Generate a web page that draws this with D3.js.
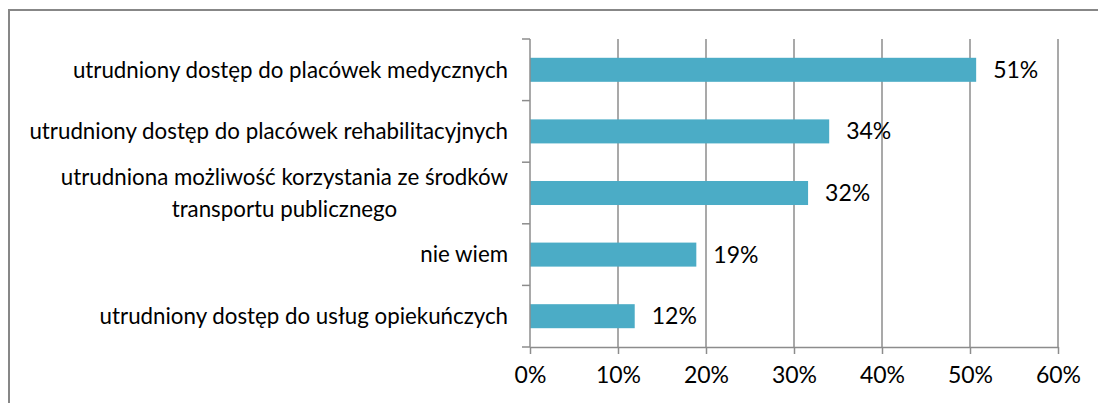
<!DOCTYPE html>
<html>
<head>
<meta charset="utf-8">
<script src="https://cdn.jsdelivr.net/npm/d3@7"></script>
<style>
  html, body { margin: 0; padding: 0; background: #fff; }
  svg { display: block; }
  text { font-family: Lato, "Liberation Sans", sans-serif; fill: #000; }
</style>
</head>
<body>
<div id="chart"></div>
<script>
// chart data
var categories = [
  ["utrudniony dostęp do placówek medycznych"],
  ["utrudniony dostęp do placówek rehabilitacyjnych"],
  ["utrudniona możliwość korzystania ze środków", "transportu publicznego"],
  ["nie wiem"],
  ["utrudniony dostęp do usług opiekuńczych"]
];
var values = [0.507, 0.34, 0.316, 0.189, 0.119];
var tickValues = [0, 0.1, 0.2, 0.3, 0.4, 0.5, 0.6];

var width = 1098, height = 403;

var svg = d3.select("#chart").append("svg")
  .attr("width", width)
  .attr("height", height);

// outer frame (runs off right and bottom edge)
svg.append("path")
  .attr("d", "M9," + (height + 5) + "V10H" + (width + 5))
  .attr("fill", "none")
  .attr("stroke", "#878787")
  .attr("stroke-width", 2);

var x = d3.scaleLinear().domain([0, 0.6]).range([530, 1058]);

var y = d3.scaleBand()
  .domain(d3.range(categories.length))
  .range([39, 347])
  .paddingInner(0.61)
  .paddingOuter(0.305);

var gridColor = "#8c8c8c";

// vertical gridlines
svg.append("g").selectAll("line")
  .data(tickValues.slice(1))
  .enter().append("line")
  .attr("x1", function(d) { return x(d); })
  .attr("x2", function(d) { return x(d); })
  .attr("y1", 39)
  .attr("y2", 347)
  .attr("stroke", gridColor)
  .attr("stroke-width", 1.5);

// bars
svg.append("g").selectAll("rect")
  .data(values)
  .enter().append("rect")
  .attr("x", x(0))
  .attr("y", function(d, i) { return y(i); })
  .attr("width", function(d) { return x(d) - x(0); })
  .attr("height", y.bandwidth())
  .attr("fill", "#4bacc6");

// bottom axis
var xAxis = d3.axisBottom(x)
  .tickValues(tickValues)
  .tickFormat(d3.format(".0%"))
  .tickSizeInner(7)
  .tickSizeOuter(0)
  .tickPadding(13);

var gx = svg.append("g")
  .attr("transform", "translate(0,347)")
  .call(xAxis);
gx.select(".domain").attr("stroke", gridColor).attr("stroke-width", 1.5);
gx.selectAll(".tick line").attr("stroke", gridColor).attr("stroke-width", 1.5);
gx.selectAll(".tick text")
  .attr("font-family", "Lato, sans-serif")
  .attr("font-size", 23)
  .attr("fill", "#000");

// left axis line + ticks between categories
svg.append("line")
  .attr("x1", x(0)).attr("x2", x(0))
  .attr("y1", 39).attr("y2", 347)
  .attr("stroke", gridColor)
  .attr("stroke-width", 1.5);

var bounds = d3.range(categories.length + 1).map(function(i) {
  return y.range()[0] + i * y.step();
});
svg.append("g").selectAll("line")
  .data(bounds)
  .enter().append("line")
  .attr("x1", x(0) - 8).attr("x2", x(0))
  .attr("y1", function(d) { return d; })
  .attr("y2", function(d) { return d; })
  .attr("stroke", gridColor)
  .attr("stroke-width", 1.5);

// category labels (multi-line ones centred within the block)
var labelRight = 508, lineH = 32;
categories.forEach(function(lines, i) {
  var cy = y(i) + y.bandwidth() / 2;
  var g = svg.append("g");
  var texts = lines.map(function(s, k) {
    return g.append("text")
      .attr("font-size", 22.3)
      .attr("dy", "0.35em")
      .attr("y", cy + (k - (lines.length - 1) / 2) * lineH)
      .text(s);
  });
  var widths = texts.map(function(t) { return t.node().getComputedTextLength(); });
  var blockW = d3.max(widths);
  texts.forEach(function(t, k) {
    t.attr("x", labelRight - blockW / 2).attr("text-anchor", "middle");
  });
});

// value labels
svg.append("g").selectAll("text")
  .data(values)
  .enter().append("text")
  .attr("x", function(d) { return x(d) + 17; })
  .attr("y", function(d, i) { return y(i) + y.bandwidth() / 2; })
  .attr("dy", "0.35em")
  .attr("font-size", 23)
  .text(function(d) { return d3.format(".0%")(d); });
</script>
</body>
</html>
